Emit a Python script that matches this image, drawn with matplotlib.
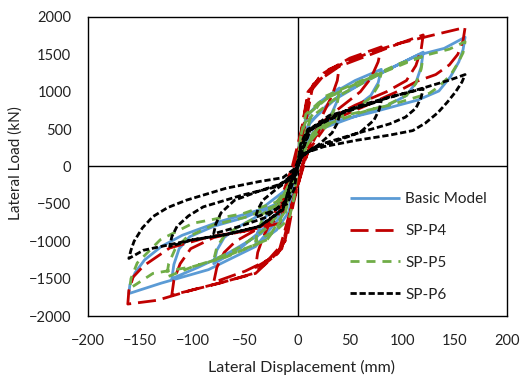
import matplotlib
matplotlib.use("Agg")
import matplotlib.pyplot as plt

plt.rcParams['font.family'] = ['Lato', 'DejaVu Sans']
plt.rcParams['lines.scale_dashes'] = False

# Lateral displacement (mm), lateral load (kN) pairs
basic_model = [(0, 0), (3, 350), (8, 650), (20, 850), (40, 1050), (38, 880), (33, 720), (25, 580), (12, 400), (3, 150),
               (-3, -150), (-8, -600), (-20, -850), (-40, -1050), (-38, -880), (-33, -720), (-25, -580), (-12, -400), (-3, -150),
               (3, 400), (10, 700), (30, 950), (55, 1150), (80, 1300), (77, 1120), (70, 950), (58, 820), (35, 640), (15, 460), (3, 150),
               (-3, -150), (-10, -450), (-30, -800), (-55, -1100), (-80, -1300), (-77, -1120), (-70, -950), (-58, -820), (-35, -640), (-15, -460), (-3, -150),
               (3, 150), (10, 550), (30, 850), (60, 1100), (90, 1320), (120, 1530), (118, 1330), (113, 1120), (104, 950), (85, 810), (55, 670), (20, 490), (5, 200),
               (-5, -200), (-12, -550), (-35, -900), (-65, -1150), (-95, -1350), (-120, -1500), (-118, -1310), (-113, -1100), (-103, -940), (-80, -800), (-50, -680), (-20, -500), (-5, -200),
               (5, 200), (12, 600), (40, 950), (72, 1200), (115, 1490), (140, 1580), (160, 1730), (158, 1560), (154, 1400), (146, 1200), (135, 1010), (115, 890), (70, 720), (25, 570), (8, 300),
               (-5, -200), (-12, -600), (-40, -1070), (-85, -1380), (-130, -1560), (-161, -1700), (-160, -1580), (-155, -1420), (-146, -1250), (-130, -1070), (-110, -920), (-75, -740), (-36, -580), (-10, -300), (0, 0)]

sp_p4 = [(0, 0), (4, 500), (10, 950), (20, 1180), (40, 1350), (38, 1150), (33, 950), (25, 720), (15, 400), (5, 0),
         (-4, -500), (-10, -950), (-20, -1180), (-40, -1350), (-38, -1150), (-33, -950), (-25, -720), (-15, -400), (-5, 0),
         (4, 500), (10, 1000), (25, 1250), (50, 1450), (80, 1600), (77, 1400), (70, 1180), (60, 1000), (40, 780), (20, 550), (8, 200),
         (-4, -400), (-12, -1000), (-28, -1250), (-50, -1400), (-80, -1550), (-77, -1350), (-70, -1150), (-59, -1000), (-40, -850), (-18, -650), (-8, -250),
         (4, 400), (12, 1000), (30, 1300), (70, 1530), (100, 1660), (120, 1760), (118, 1560), (113, 1350), (104, 1150), (85, 1000), (55, 820), (25, 600), (8, 150),
         (-5, -500), (-15, -1100), (-40, -1430), (-75, -1560), (-100, -1650), (-120, -1720), (-118, -1520), (-112, -1300), (-102, -1100), (-80, -950), (-50, -860), (-20, -720), (-8, -200),
         (5, 400), (15, 1100), (40, 1340), (72, 1510), (98, 1650), (130, 1760), (160, 1860), (158, 1680), (153, 1500), (145, 1360), (132, 1230), (114, 1140), (98, 1020), (63, 800), (30, 600), (10, 200),
         (-5, -500), (-18, -1150), (-42, -1430), (-74, -1560), (-100, -1650), (-134, -1790), (-162, -1840), (-161, -1660), (-157, -1480), (-147, -1330), (-122, -1090), (-84, -940), (-52, -870), (-17, -760), (-5, -200), (0, 0)]

sp_p5 = [(0, 0), (3, 400), (8, 700), (20, 850), (40, 1000), (38, 850), (33, 700), (25, 560), (10, 300), (0, 0),
         (-3, -400), (-8, -700), (-20, -850), (-40, -1000), (-38, -850), (-33, -700), (-25, -560), (-10, -300), (0, 0),
         (3, 400), (10, 700), (30, 930), (55, 1100), (80, 1250), (77, 1080), (70, 920), (58, 800), (35, 640), (15, 450), (3, 150),
         (-3, -150), (-10, -500), (-30, -830), (-55, -1080), (-80, -1250), (-77, -1080), (-70, -930), (-58, -820), (-35, -650), (-15, -480), (-3, -150),
         (3, 150), (10, 600), (25, 930), (63, 1160), (98, 1380), (120, 1470), (118, 1300), (113, 1110), (104, 950), (85, 820), (55, 700), (20, 520), (5, 200),
         (-5, -200), (-12, -600), (-29, -980), (-68, -1200), (-100, -1340), (-125, -1480), (-123, -1300), (-117, -1110), (-106, -950), (-80, -780), (-50, -680), (-20, -520), (-5, -200),
         (5, 200), (12, 650), (40, 950), (80, 1250), (120, 1480), (145, 1570), (160, 1670), (158, 1520), (153, 1380), (146, 1220), (135, 1070), (126, 980), (88, 820), (41, 670), (10, 350),
         (-5, -200), (-12, -650), (-29, -980), (-68, -1210), (-100, -1340), (-138, -1430), (-160, -1630), (-159, -1500), (-153, -1290), (-131, -980), (-100, -760), (-52, -630), (-15, -450), (0, 0)]

sp_p6 = [(0, 0), (3, 300), (10, 500), (25, 600), (40, 680), (38, 580), (33, 450), (20, 290), (5, 150), (0, 0),
         (-3, -300), (-10, -500), (-25, -600), (-40, -680), (-38, -580), (-33, -450), (-20, -300), (-5, -150), (0, 0),
         (3, 250), (10, 480), (30, 680), (55, 780), (80, 880), (78, 760), (73, 620), (60, 460), (35, 330), (15, 250), (3, 120),
         (-3, -150), (-10, -450), (-30, -680), (-55, -800), (-80, -900), (-78, -770), (-73, -620), (-60, -450), (-35, -320), (-15, -230), (-3, -100),
         (3, 150), (12, 480), (31, 660), (56, 800), (88, 930), (120, 1040), (118, 920), (113, 780), (103, 660), (88, 570), (56, 440), (25, 310), (5, 150),
         (-5, -150), (-14, -570), (-36, -800), (-68, -910), (-100, -980), (-122, -1070), (-120, -940), (-115, -800), (-104, -660), (-90, -540), (-52, -380), (-20, -270), (-5, -120),
         (3, 170), (12, 490), (40, 700), (82, 900), (120, 1050), (146, 1160), (160, 1230), (157, 1130), (151, 1000), (143, 860), (134, 720), (122, 580), (110, 480), (88, 420), (56, 350), (25, 265), (5, 170),
         (-5, -150), (-14, -580), (-36, -800), (-68, -910), (-100, -980), (-147, -1120), (-161, -1230), (-159, -1120), (-156, -1000), (-148, -820), (-138, -670), (-124, -550), (-106, -450), (-68, -290), (-36, -200), (-14, -150), (0, 0)]

series_names = ["Basic Model", "SP-P4", "SP-P5", "SP-P6"]
x_ticks = [-200, -150, -100, -50, 0, 50, 100, 150, 200]
y_ticks = [-2000, -1500, -1000, -500, 0, 500, 1000, 1500, 2000]

W, H = 524, 378
fig = plt.figure(figsize=(W / 100, H / 100), dpi=100)
ax = fig.add_axes([88 / W, 1 - 316 / H, (507 - 88) / W, (316 - 17) / H])

styles = [
    dict(color="#5B9BD5", lw=2.0, ls="-"),
    dict(color="#C00000", lw=2.0, dashes=(13, 5)),
    dict(color="#70AD47", lw=2.0, dashes=(6.5, 5)),
    dict(color="black", lw=2.0, dashes=(4.5, 2)),
]
data = [basic_model, sp_p4, sp_p5, sp_p6]
for name, d, st in zip(series_names, data, styles):
    xs = [p[0] for p in d]
    ys = [p[1] for p in d]
    ax.plot(xs, ys, label=name, solid_capstyle="butt", dash_capstyle="butt",
            solid_joinstyle="round", dash_joinstyle="round", **st)

ax.axhline(0, color="black", lw=1.0, zorder=0.5)
ax.axvline(0, color="black", lw=1.0, zorder=0.5)

ax.set_xlim(-200, 200)
ax.set_ylim(-2000, 2000)
ax.set_xticks(x_ticks)
ax.set_yticks(y_ticks)
ax.tick_params(length=0, labelsize=10.5, colors="#222222")
ax.tick_params(axis="x", pad=13)
ax.tick_params(axis="y", pad=12)
for s in ax.spines.values():
    s.set_color("black")
    s.set_linewidth(1.0)

ax.set_xlabel("Lateral Displacement (mm)", fontsize=11.5, color="#222222")
ax.set_ylabel("Lateral Load (kN)", fontsize=11, color="#222222")
ax.xaxis.set_label_coords(302 / W, 1 - 367 / H, transform=fig.transFigure)
ax.yaxis.set_label_coords(16 / W, 1 - 163 / H, transform=fig.transFigure)
ax.xaxis.label.set_va("center")
ax.yaxis.label.set_va("center")

leg = fig.legend(loc="upper left", bbox_to_anchor=(350 / W, 1 - 192 / H), frameon=False, fontsize=11,
                 handlelength=3.27, handletextpad=0.33, labelspacing=1.17, borderaxespad=0, borderpad=0)
for t in leg.get_texts():
    t.set_color("#222222")

fig.savefig("out.png", dpi=100)
